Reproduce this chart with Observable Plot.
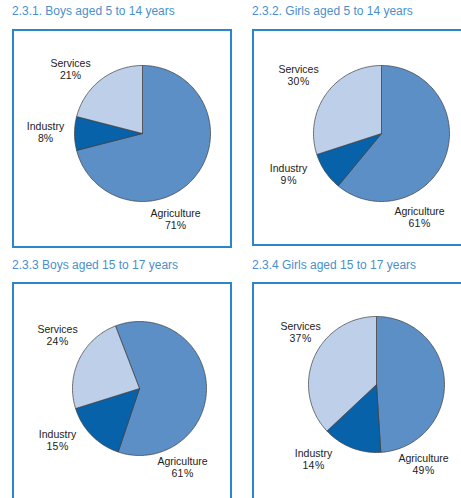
<!DOCTYPE html>
<html><head><meta charset="utf-8">
<script src="https://cdn.jsdelivr.net/npm/d3@7"></script>
<script src="https://cdn.jsdelivr.net/npm/@observablehq/plot@0.6"></script>
<style>
body{margin:0;background:#fff;width:461px;height:498px;overflow:hidden;position:relative;font-family:"Liberation Sans",Arial,sans-serif}
.title{position:absolute;font-family:"Liberation Sans Narrow","Arial Narrow",sans-serif;font-size:12px;line-height:14px;color:#4a8fcc;white-space:nowrap}
.box{position:absolute;border:2px solid #2b87c9;box-sizing:border-box;overflow:hidden;background:#fff}
.box svg{position:absolute;left:0;top:0}
</style></head><body>
<script>
// ---- data ----
const sectors = ["Agriculture", "Industry", "Services"];
const boys5to14 = [71, 8, 21];
const girls5to14 = [61, 9, 30];
const boys15to17 = [61, 15, 24];
const girls15to17 = [49, 14, 37];
const titles = [
  "2.3.1. Boys aged 5 to 14 years",
  "2.3.2. Girls aged 5 to 14 years",
  "2.3.3 Boys aged 15 to 17 years",
  "2.3.4 Girls aged 15 to 17 years"
];
const series = [boys5to14, girls5to14, boys15to17, girls15to17];
const colors = ["#5b8fc6", "#0862a9", "#bdcfe9"];

// ---- layout (page pixels) ----
const layout = [
  {tx: 12, ty: 4, bx: 12, by: 29, bw: 220, bh: 219, cx: 142, cy: 133, r: 68, start: 0, sep: "",
   lab: [[175, 219], [45, 132], [70, 69]]},
  {tx: 252, ty: 4, bx: 252, by: 29, bw: 215, bh: 217, cx: 381, cy: 133, r: 68, start: 0, sep: "\u200A",
   lab: [[419, 217], [288, 174], [298, 75]]},
  {tx: 12, ty: 258, bx: 12, by: 282, bw: 220, bh: 222, cx: 139, cy: 388, r: 67, start: -21, sep: "\u200A",
   lab: [[182, 467], [57, 440], [57, 335]]},
  {tx: 252, ty: 258, bx: 252, by: 282, bw: 215, bh: 222, cx: 376, cy: 384, r: 68, start: 0, sep: "\u200A",
   lab: [[423, 464], [313, 459], [300, 332]]}
];

series.forEach((vals, k) => {
  const L = layout[k];
  const t = document.createElement("div");
  t.className = "title";
  t.style.left = L.tx + "px"; t.style.top = L.ty + "px";
  t.textContent = titles[k];
  document.body.appendChild(t);

  const box = document.createElement("div");
  box.className = "box";
  Object.assign(box.style, {left: L.bx + "px", top: L.by + "px", width: L.bw + "px", height: L.bh + "px"});
  document.body.appendChild(box);

  const x0 = L.bx + 2, y0 = L.by + 2, W = L.bw - 4, H = L.bh - 4;
  const total = d3.sum(vals);
  const pts = [];
  let cum = 0;
  vals.forEach((v, i) => {
    const a0 = (L.start * Math.PI / 180) + cum / total * 2 * Math.PI;
    const a1 = a0 + v / total * 2 * Math.PI;
    cum += v;
    const n = Math.max(4, Math.ceil(v * 3));
    pts.push({sector: sectors[i], x: L.cx, y: L.cy});
    for (let j = 0; j <= n; j++) {
      const a = a0 + (a1 - a0) * j / n;
      pts.push({sector: sectors[i], x: L.cx + L.r * Math.sin(a), y: L.cy - L.r * Math.cos(a)});
    }
    pts.push({sector: sectors[i], x: L.cx, y: L.cy});
  });
  const labels = sectors.map((s, i) => ({x: L.lab[i][0], y: L.lab[i][1], text: s + "\n" + vals[i] + L.sep + "%"}));

  const chart = Plot.plot({
    width: W, height: H, margin: 0,
    x: {domain: [x0, x0 + W], range: [0, W], axis: null},
    y: {domain: [y0, y0 + H], range: [0, H], axis: null},
    color: {domain: sectors, range: colors},
    style: {background: "transparent", fontFamily: "'Liberation Sans', Arial, sans-serif"},
    marks: [
      Plot.line(pts, {x: "x", y: "y", z: "sector", fill: "sector", stroke: "#3c3c3c", strokeWidth: 0.7, curve: "linear"}),
      Plot.text(labels, {x: "x", y: "y", text: "text", fontSize: 10.5, fill: "#222", lineHeight: 1.15})
    ]
  });
  box.appendChild(chart);
});
</script>
</body></html>
